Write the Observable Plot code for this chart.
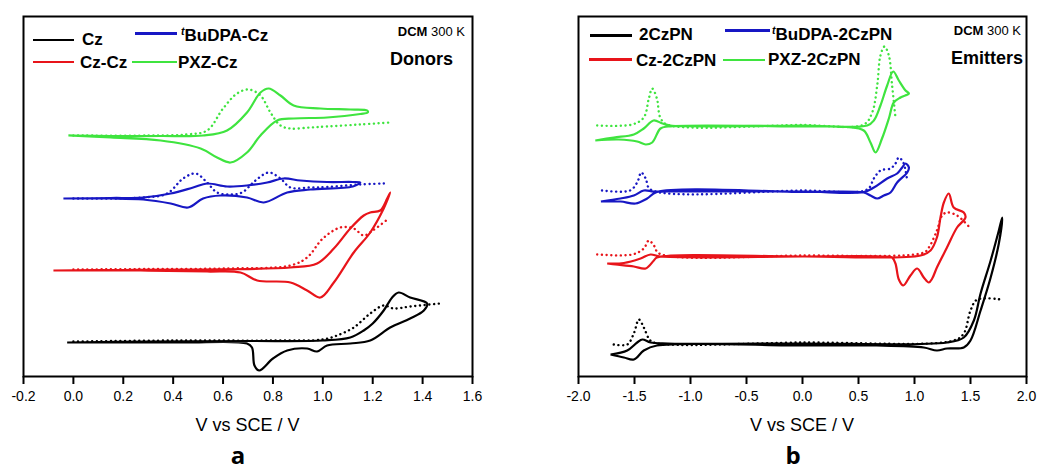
<!DOCTYPE html>
<html>
<head>
<meta charset="utf-8">
<script src="https://cdn.jsdelivr.net/npm/d3@7"></script>
<script src="https://cdn.jsdelivr.net/npm/@observablehq/plot@0.6"></script>
<style>
  html, body { margin: 0; padding: 0; background: #fff; }
  #wrap { position: relative; width: 1038px; height: 471px; overflow: hidden; background: #fff;
          font-family: "Liberation Sans", Arial, sans-serif; color: #000; }
  .panel { position: absolute; top: 0; }
  .t { position: absolute; white-space: nowrap; line-height: 1; }
  .leg { font-size: 17px; font-weight: bold; }
  .sw { position: absolute; height: 2.5px; }
  .dcm { font-size: 13px; }
  .grp { font-size: 18px; font-weight: bold; }
  .xl { font-size: 18px; }
  .pl { font-size: 24px; font-weight: bold; font-family: "Open Sans", "Liberation Sans", sans-serif; }
  sup { font-size: 0.62em; font-style: italic; vertical-align: 0; position: relative; top: -0.55em; }
</style>
</head>
<body>
<div id="wrap"></div>
<script>
// ---------- tick labels ----------
const ticksA = [-0.2, 0.0, 0.2, 0.4, 0.6, 0.8, 1.0, 1.2, 1.4, 1.6];
const ticksB = [-2.0, -1.5, -1.0, -0.5, 0.0, 0.5, 1.0, 1.5, 2.0];
const xLabel = "V vs SCE / V";

// ---------- panel a: Donors (V vs SCE, current in arbitrary offset units) ----------
const czSolid = [[-0.025,35],[0.3,36],[0.7,36.5],[1.0,37],[1.11,40],[1.164,47],[1.20,54],[1.244,67],[1.278,80],[1.304,85],[1.35,80],[1.418,74],[1.405,67],[1.35,59],[1.27,50],[1.19,37],[1.11,34],[1.017,32],[0.977,26],[0.937,29],[0.857,27],[0.80,19],[0.745,7],[0.726,12],[0.716,30],[0.696,34],[0.43,35],[-0.025,35]];
const czDot = [[0.0,36],[0.4,37],[0.8,37],[1.0,38],[1.057,42],[1.124,50],[1.19,64],[1.244,72],[1.284,69],[1.35,71],[1.47,74]];
const czczSolid = [[-0.08,107],[0.2,107.5],[0.5,108],[0.87,110],[0.977,114],[1.044,129],[1.11,149],[1.164,162],[1.19,165],[1.23,167],[1.258,179],[1.27,185],[1.244,169],[1.19,145],[1.124,125],[1.044,95],[0.99,80],[0.937,87],[0.87,95],[0.737,97],[0.67,105],[0.536,106],[0.27,107],[-0.08,107]];
const czczDot = [[0.0,108],[0.3,108.5],[0.6,109],[0.87,112],[0.937,120],[1.0,139],[1.07,150],[1.124,149],[1.164,142],[1.20,147],[1.264,159]];
const budpaCzSolid = [[-0.04,179],[0.15,179.5],[0.28,180],[0.39,184],[0.48,190],[0.536,194],[0.616,191],[0.696,192],[0.777,195],[0.843,199],[0.91,197],[1.017,195.5],[1.12,195.5],[1.15,195],[1.12,191],[0.95,188],[0.857,185],[0.763,175],[0.696,180],[0.59,182],[0.52,179],[0.46,170],[0.39,174],[0.28,178],[0.15,179],[-0.04,179]];
const budpaCzDot = [[0.0,179],[0.28,180],[0.376,184],[0.44,199],[0.49,204],[0.536,195],[0.576,185],[0.63,183],[0.676,185],[0.73,197],[0.783,205],[0.83,199],[0.87,190],[0.95,190],[1.017,190.5],[1.15,193],[1.245,194]];
const pxzCzSolid = [[-0.02,242],[0.15,241.5],[0.35,241.5],[0.52,242],[0.616,247],[0.696,265],[0.75,285],[0.783,289],[0.83,282],[0.883,272],[0.99,269],[1.11,268],[1.178,267],[1.18,265],[1.15,263.5],[1.017,260],[0.883,259],[0.817,257],[0.75,242],[0.696,225],[0.63,215],[0.576,220],[0.51,229],[0.35,237],[0.15,240],[-0.02,242]];
const pxzCzDot = [[0.0,242],[0.3,242],[0.45,243],[0.536,247],[0.60,269],[0.656,284],[0.703,288],[0.75,282],[0.79,265],[0.83,252],[0.87,249],[0.95,250],[1.017,251],[1.15,253],[1.27,255]];

// ---------- panel b: Emitters ----------
const czpnSolid = [[-1.714,23],[-1.565,27],[-1.476,35],[-1.43,38],[-1.357,35],[-1.2,34],[0.0,34],[1.29,35],[1.44,40],[1.53,57],[1.59,84],[1.68,117],[1.753,147],[1.783,160],[1.753,134],[1.68,100],[1.59,67],[1.50,37],[1.44,30],[1.29,29],[1.20,27],[1.083,30],[0.66,32],[0.0,32],[-1.3,32],[-1.417,27],[-1.506,18],[-1.595,20],[-1.714,23]];
const czpnDot = [[-1.685,33],[-1.565,33],[-1.506,44],[-1.461,58],[-1.417,50],[-1.372,39],[-1.33,35],[0.0,35],[1.35,37],[1.44,44],[1.50,67],[1.56,78],[1.768,78]];
const czCzpnSolid = [[-1.744,114],[-1.595,114.5],[-1.446,119],[-1.357,123],[-1.268,121],[0.0,121],[1.054,122],[1.143,127],[1.20,140],[1.232,160],[1.262,175],[1.306,184],[1.35,170],[1.44,165],[1.455,160],[1.38,150],[1.29,130],[1.20,110],[1.158,99],[1.128,95],[1.083,100],[1.024,109],[0.964,102],[0.90,92],[0.86,98],[0.83,114],[0.80,120],[0.70,121],[0.0,121],[-1.3,120],[-1.327,117],[-1.40,109],[-1.506,111],[-1.67,113],[-1.744,114]];
const czCzpnDot = [[-1.833,123],[-1.52,123],[-1.417,129],[-1.372,137],[-1.327,132],[-1.28,124],[0.0,122],[1.083,125],[1.128,130],[1.20,147],[1.247,162],[1.29,165],[1.38,162],[1.485,151]];
const budpaCzpnSolid = [[-1.80,176],[-1.625,179],[-1.506,182],[-1.417,187],[-1.33,186],[-1.2,186],[0.0,186],[0.547,185.5],[0.637,190],[0.756,199],[0.845,204],[0.89,210],[0.92,214],[0.95,210],[0.935,205],[0.845,195],[0.786,185],[0.726,182],[0.667,179],[0.607,182],[0.547,185],[0.0,185.5],[-1.3,185.5],[-1.387,179],[-1.49,174],[-1.625,176],[-1.80,176]];
const budpaCzpnDot = [[-1.79,187],[-1.54,187],[-1.476,195],[-1.44,205],[-1.40,199],[-1.357,188],[0.0,187],[0.578,188],[0.637,199],[0.696,207],[0.786,209],[0.83,214],[0.86,220],[0.90,215],[0.935,197]];
const pxzCzpnSolid = [[-1.85,237],[-1.685,240],[-1.506,243],[-1.417,249],[-1.33,257],[-1.25,254],[-1.18,252],[0.0,252],[0.578,252],[0.637,257],[0.696,272],[0.756,292],[0.81,306],[0.86,297],[0.92,287],[0.95,284],[0.875,280],[0.815,275],[0.771,259],[0.71,239],[0.652,225],[0.607,235],[0.547,247],[0.40,250.5],[0.0,251],[-1.2,251],[-1.268,249],[-1.342,235],[-1.40,233],[-1.476,236],[-1.64,238],[-1.85,237]];
const pxzCzpnDot = [[-1.833,252],[-1.52,253],[-1.417,260],[-1.372,279],[-1.342,289],[-1.30,279],[-1.27,260],[-1.21,253],[0.0,252.5],[0.547,253],[0.622,265],[0.667,292],[0.696,322],[0.732,331],[0.771,322],[0.80,292],[0.83,260]];

const colors = { black: "#000000", red: "#e8141a", blue: "#1717c4", green: "#3fe43f" };

const seriesA = [
  { data: czSolid, color: colors.black }, { data: czDot, color: colors.black, dotted: true },
  { data: czczSolid, color: colors.red }, { data: czczDot, color: colors.red, dotted: true },
  { data: budpaCzSolid, color: colors.blue }, { data: budpaCzDot, color: colors.blue, dotted: true },
  { data: pxzCzSolid, color: colors.green }, { data: pxzCzDot, color: colors.green, dotted: true }
];
const seriesB = [
  { data: czpnSolid, color: colors.black }, { data: czpnDot, color: colors.black, dotted: true },
  { data: czCzpnSolid, color: colors.red }, { data: czCzpnDot, color: colors.red, dotted: true },
  { data: budpaCzpnSolid, color: colors.blue }, { data: budpaCzpnDot, color: colors.blue, dotted: true },
  { data: pxzCzpnSolid, color: colors.green }, { data: pxzCzpnDot, color: colors.green, dotted: true }
];

function panel(series, xdom, ticks, ml, mr) {
  return Plot.plot({
    width: 519, height: 471,
    marginLeft: ml, marginRight: mr, marginTop: 16, marginBottom: 95,
    x: { domain: xdom },
    y: { domain: [1, 361], axis: null },
    style: { fontFamily: '"Liberation Sans", Arial, sans-serif', fontSize: "14px", color: "#000", background: "transparent", overflow: "visible" },
    marks: [
      ...series.map(s => Plot.line(s.data, {
        x: d => d[0], y: d => d[1], stroke: s.color,
        strokeWidth: s.dotted ? 2.4 : 2.2,
        strokeDasharray: s.dotted ? "0.1 4.6" : null,
        strokeLinecap: s.dotted ? "round" : "butt",
        curve: "catmull-rom"
      })),
      Plot.frame({ stroke: "#000", strokeWidth: 2 }),
      Plot.axisX({ ticks, tickSize: 8, tickPadding: 7, strokeWidth: 2, fontSize: 14,
                   tickFormat: d => d.toFixed(1), label: null })
    ]
  });
}

const wrap = document.getElementById("wrap");
const pa = panel(seriesA, [-0.2, 1.6], ticksA, 23, 47);
pa.classList.add("panel"); pa.style.left = "0px";
const pb = panel(seriesB, [-2, 2], ticksB, 59, 12);
pb.classList.add("panel"); pb.style.left = "519px";
wrap.appendChild(pa); wrap.appendChild(pb);

function text(html, cls, x, yc, size, anchor) {
  const el = document.createElement("div");
  el.className = "t " + cls;
  el.innerHTML = html;
  el.style.top = (yc - size / 2) + "px";
  if (anchor === "end") { el.style.right = (1038 - x) + "px"; }
  else if (anchor === "middle") { el.style.left = x + "px"; el.style.transform = "translateX(-50%)"; }
  else { el.style.left = x + "px"; }
  wrap.appendChild(el);
}
function swatch(color, x, yc, w) {
  const el = document.createElement("div");
  el.className = "sw";
  el.style.background = color;
  el.style.left = x + "px"; el.style.top = (yc - 1.25) + "px"; el.style.width = w + "px";
  wrap.appendChild(el);
}

// legend panel a
swatch(colors.black, 33, 40, 41); text("Cz", "leg", 82, 39, 17);
swatch(colors.blue, 135, 33.5, 42); text("<sup>t</sup>BuDPA-Cz", "leg", 181, 35, 17);
swatch(colors.red, 33, 62, 41); text("Cz-Cz", "leg", 80, 62, 17);
swatch(colors.green, 132, 62, 45); text("PXZ-Cz", "leg", 178, 62, 17);
text("<b>DCM</b> 300 K", "dcm", 465, 31.5, 13, "end");
text("Donors", "grp", 453, 58.5, 18, "end");

// legend panel b
swatch(colors.black, 590, 35.5, 42); text("2CzPN", "leg", 639, 34.5, 17);
swatch(colors.blue, 725, 30.5, 45); text("<sup>t</sup>BuDPA-2CzPN", "leg", 772, 34, 17);
swatch(colors.red, 589, 59.5, 43); text("Cz-2CzPN", "leg", 636, 60, 17);
swatch(colors.green, 723, 60, 42); text("PXZ-2CzPN", "leg", 768, 59, 17);
text("<b>DCM</b> 300 K", "dcm", 1021, 30.5, 13, "end");
text("Emitters", "grp", 1023, 57.5, 18, "end");

// axis titles and panel letters
text(xLabel, "xl", 247.5, 425, 18, "middle");
text(xLabel, "xl", 802, 425, 18, "middle");
text("a", "pl", 238, 455, 24, "middle");
text("b", "pl", 793, 455, 24, "middle");
</script>
</body>
</html>
